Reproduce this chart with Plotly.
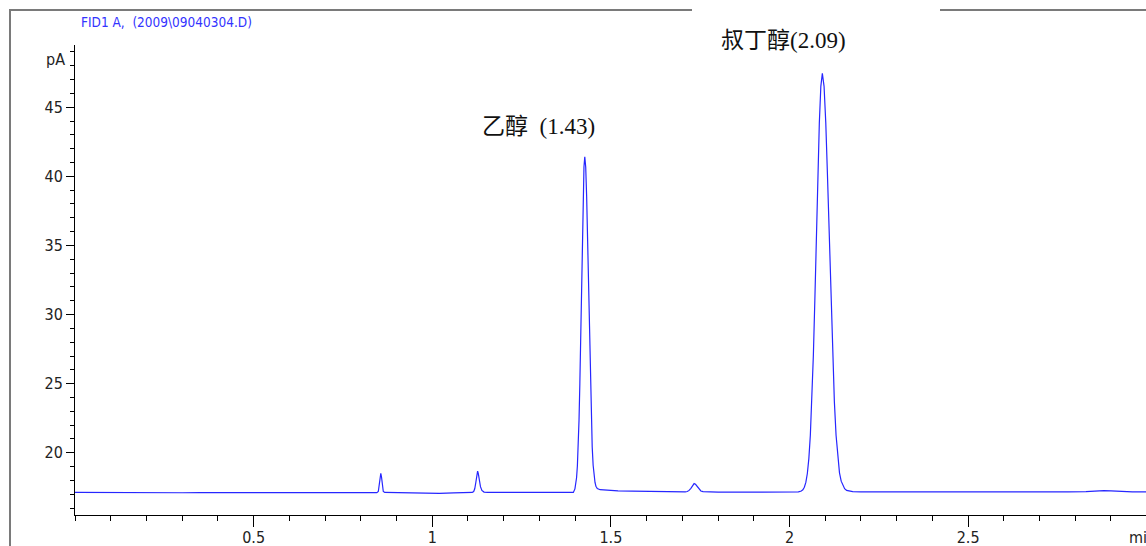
import plotly.graph_objects as go

# ---- data (time in min, signal in pA) ----
time_min = [
    0.000, 0.05, 0.10, 0.15, 0.20, 0.25, 0.30, 0.35, 0.40, 0.45, 0.50, 0.55, 0.60, 0.65,
    0.70, 0.75, 0.80, 0.845, 0.849, 0.852, 0.854, 0.856, 0.858, 0.860, 0.863, 0.867,
    0.90, 0.95, 0.99, 1.02, 1.06, 1.10, 1.112, 1.116, 1.119, 1.122, 1.125, 1.127, 1.129,
    1.132, 1.135, 1.139, 1.145, 1.155, 1.20, 1.30, 1.38, 1.395,
    1.3994, 1.4017, 1.404, 1.4063, 1.4086, 1.4109, 1.4132, 1.4155, 1.4178, 1.4201,
    1.4224, 1.4247, 1.427, 1.4296, 1.4322, 1.4348, 1.4374, 1.4400, 1.4426, 1.4452,
    1.4478, 1.4504, 1.4530, 1.4556, 1.4582, 1.462, 1.47, 1.49, 1.52, 1.56, 1.60, 1.65,
    1.70, 1.708, 1.714, 1.719, 1.724, 1.729, 1.733, 1.737, 1.742, 1.747, 1.752, 1.758,
    1.77, 1.80, 1.85, 1.90, 1.95, 2.00, 2.025,
    2.0332, 2.0374, 2.0416, 2.0458, 2.0500, 2.0542, 2.0584, 2.0626, 2.0668, 2.0710,
    2.0752, 2.0794, 2.0836, 2.0878, 2.092, 2.0968, 2.1016, 2.1064, 2.1112, 2.1160,
    2.1208, 2.1256, 2.1304, 2.1352, 2.1400, 2.1448, 2.1496, 2.1544, 2.160, 2.167,
    2.177, 2.20, 2.30, 2.40, 2.50, 2.60, 2.70, 2.78, 2.83, 2.86, 2.88, 2.90, 2.93,
    2.96, 3.00,
]
signal_pA = [
    17.13, 17.12, 17.13, 17.12, 17.12, 17.11, 17.11, 17.12, 17.12, 17.12, 17.12, 17.13, 17.12, 17.12,
    17.12, 17.12, 17.12, 17.12, 17.20, 17.70, 18.25, 18.51, 18.25, 17.70, 17.20, 17.13,
    17.12, 17.10, 17.06, 17.07, 17.10, 17.12, 17.13, 17.20, 17.40, 17.85, 18.40, 18.68, 18.50,
    18.00, 17.55, 17.28, 17.16, 17.13, 17.12, 17.12, 17.12, 17.13,
    17.39, 17.67, 18.19, 19.05, 20.41, 22.38, 25.01, 28.24, 31.86, 35.46,
    38.56, 40.67, 41.42, 40.67, 38.56, 35.46, 31.86, 28.24, 25.01, 22.38,
    20.41, 19.10, 18.30, 17.85, 17.58, 17.42, 17.33, 17.28, 17.25, 17.22, 17.20, 17.18,
    17.17, 17.17, 17.20, 17.28, 17.43, 17.64, 17.77, 17.72, 17.55, 17.36, 17.24, 17.19,
    17.17, 17.16, 17.15, 17.15, 17.16, 17.16, 17.17,
    17.24, 17.32, 17.51, 17.86, 18.50, 19.58, 21.27, 23.72, 27.00, 31.03,
    35.54, 40.03, 43.90, 46.51, 47.45, 46.51, 43.90, 40.03, 35.54, 31.03,
    27.00, 23.72, 21.27, 19.58, 18.55, 17.95, 17.60, 17.40, 17.28, 17.22,
    17.19, 17.18, 17.17, 17.17, 17.16, 17.16, 17.16, 17.17, 17.19, 17.25, 17.27, 17.24, 17.20,
    17.18, 17.18,
]

x_tickvals = [0.5, 1, 1.5, 2, 2.5]
x_ticktext = ["0.5", "1", "1.5", "2", "2.5"]
y_tickvals = [20, 25, 30, 35, 40, 45]
y_ticktext = ["20", "25", "30", "35", "40", "45"]

peak_labels = ["乙醇\u00a0\u00a0(1.43)", "叔丁醇(2.09)"]
peak_label_x = [1.298, 1.982]
peak_label_y = [43.63, 49.83]

title_text = "FID1 A,\u00a0\u00a0(2009\\09040304.D)"
y_unit = "pA"
x_unit = "min"

# ---- figure ----
W, H = 1146, 546
L, R, T, B = 75, 0, 45, 31
pw, ph = W - L - R, H - T - B
Y_LO, Y_HI = 15.5, 49.5


def px_x(px):
    return (px - L) / pw


def px_y(py):
    return (H - B - py) / ph


def val_to_paper_y(v):
    return (v - Y_LO) / (Y_HI - Y_LO)


narrow = "Liberation Sans Narrow, Arial Narrow, DejaVu Sans Condensed, sans-serif"
serif = "Liberation Serif, Times New Roman, Noto Sans CJK SC, serif"

fig = go.Figure()
fig.add_trace(go.Scatter(
    x=time_min, y=signal_pA, mode="lines",
    line=dict(color="#2626ff", width=1.2),
    hoverinfo="skip", showlegend=False,
))

axis_common = dict(
    showgrid=False, zeroline=False, showline=True, linecolor="black", linewidth=1,
    ticks="outside", tickcolor="black", tickwidth=1, automargin=False,
    tickfont=dict(family=narrow, size=16, color="#222222"),
)

fig.update_xaxes(
    range=[0, 2.998], tickmode="array", tickvals=x_tickvals, ticktext=x_ticktext,
    ticklen=11, ticklabelstandoff=-3,
    minor=dict(ticks="outside", dtick=0.1, tick0=0, ticklen=5, tickcolor="black", tickwidth=1, showgrid=False),
    **axis_common,
)
fig.update_yaxes(
    range=[Y_LO, Y_HI], tickmode="array", tickvals=y_tickvals, ticktext=y_ticktext,
    ticklen=8,
    minor=dict(ticks="outside", dtick=1, tick0=0, ticklen=4, tickcolor="black", tickwidth=1, showgrid=False),
    **axis_common,
)

annotations = [
    dict(text=title_text, xref="paper", yref="paper", x=px_x(79), y=px_y(22),
         xanchor="left", yanchor="middle", showarrow=False,
         font=dict(family=narrow, size=13.5, color="#3333ff")),
    dict(text=y_unit, xref="paper", yref="paper", x=px_x(67), y=px_y(59),
         xanchor="right", yanchor="middle", showarrow=False,
         font=dict(family=narrow, size=16, color="#222222")),
    dict(text=x_unit, xref="paper", yref="paper", x=px_x(1127), y=px_y(537),
         xanchor="left", yanchor="middle", showarrow=False,
         font=dict(family=narrow, size=16, color="#222222")),
]
for txt, lx, ly in zip(peak_labels, peak_label_x, peak_label_y):
    annotations.append(dict(text=txt, x=lx, y=val_to_paper_y(ly), xref="x", yref="paper",
                            xanchor="center", yanchor="middle", showarrow=False,
                            font=dict(family=serif, size=23, color="#111111")))

shapes = [
    dict(type="line", xref="paper", yref="paper", x0=px_x(10), x1=px_x(10),
         y0=px_y(10), y1=px_y(548), line=dict(color="#7a7a7a", width=2)),
    dict(type="line", xref="paper", yref="paper", x0=px_x(9), x1=px_x(692),
         y0=px_y(10), y1=px_y(10), line=dict(color="#7a7a7a", width=2)),
    dict(type="line", xref="paper", yref="paper", x0=px_x(940), x1=px_x(1148),
         y0=px_y(10), y1=px_y(10), line=dict(color="#7a7a7a", width=2)),
]

fig.update_layout(
    width=W, height=H, margin=dict(l=L, r=R, t=T, b=B, pad=0, autoexpand=False),
    paper_bgcolor="white", plot_bgcolor="white",
    annotations=annotations, shapes=shapes, showlegend=False,
)

fig.write_html(
    "out.html",
    config={"displayModeBar": False},
    post_script="document.body.style.margin='0';document.body.style.padding='0';document.body.style.overflow='hidden';",
)
